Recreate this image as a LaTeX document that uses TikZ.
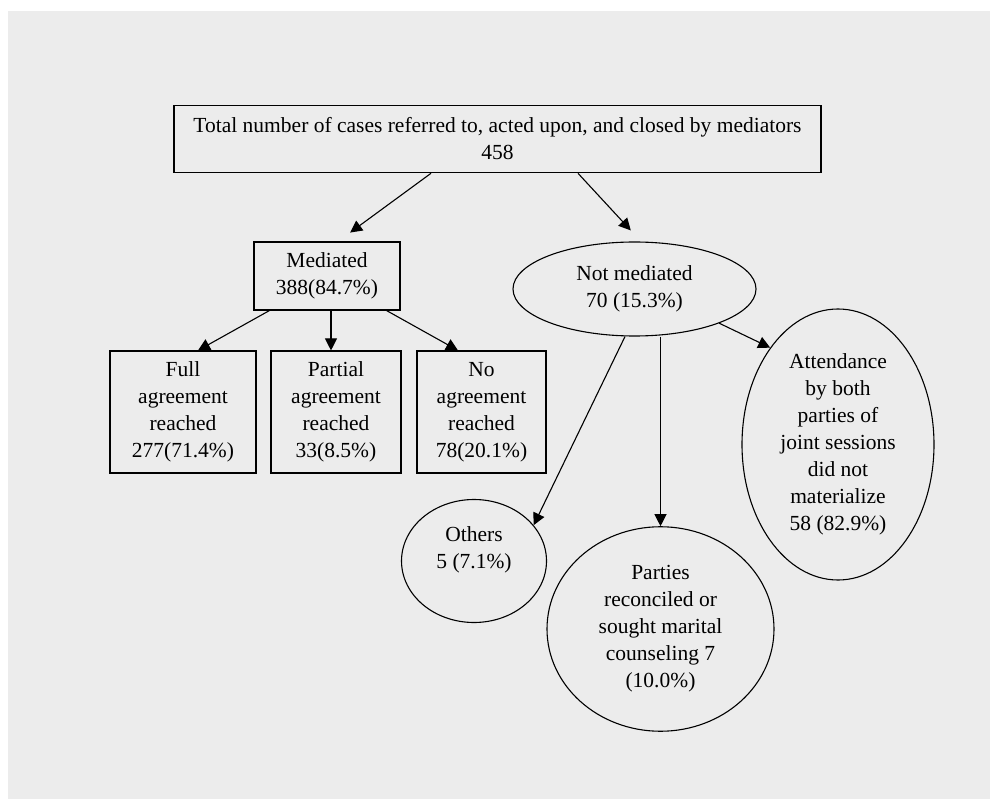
\documentclass[tikz,border=0pt]{standalone}
\usepackage{fontspec}
\setmainfont{Liberation Serif}
\usepackage{xcolor}
\usepackage{tikz}
\usetikzlibrary{positioning,arrows.meta,shapes.geometric}
\definecolor{paper}{HTML}{ECECEC}

\begin{document}
\begin{tikzpicture}[x=1pt,y=-1pt,
  box/.style={draw,line width=1.1pt,inner sep=0pt,align=center,font=\fontsize{21.5}{27}\selectfont},
  oval/.style={draw,ellipse,line width=1.1pt,inner sep=0pt,align=center,font=\fontsize{21.5}{27}\selectfont},
  arr/.style={line width=1.1pt,-{Triangle[length=12pt,width=12pt]}}
]
\useasboundingbox (0,0) rectangle (990,799);
\fill[white] (0,0) rectangle (990,799);
\fill[paper] (8,11) rectangle (990,799);
\node[box,minimum width=647pt,minimum height=67.5pt] (total) at (497.5,139)
  {Total number of cases referred to, acted upon, and closed by mediators\\458};
\node[box,minimum width=146pt,minimum height=68pt] (med) at (327,276) {Mediated\\388(84.7\%)};
\node[oval,minimum width=243pt,minimum height=94pt] (notmed) at (634.5,289) {Not mediated\\70 (15.3\%)};
\node[box,minimum width=146pt,minimum height=122pt] (full) at (183,412) {Full\\agreement\\reached\\277(71.4\%)};
\node[box,minimum width=130pt,minimum height=122pt] (part) at (336,412) {Partial\\agreement\\reached\\33(8.5\%)};
\node[box,minimum width=129pt,minimum height=122pt] (noagr) at (481.5,412) {No\\agreement\\reached\\78(20.1\%)};
\node[oval,minimum width=192pt,minimum height=271pt] (attend) at (838,444.5)
  {Attendance\\by both\\parties of\\joint sessions\\did not\\materialize\\58 (82.9\%)};
\node[oval,minimum width=145pt,minimum height=123pt,text depth=27pt] (others) at (474,561) {Others\\5 (7.1\%)};
\node[oval,minimum width=227pt,minimum height=204.5pt] (parties) at (660.5,629)
  {Parties\\reconciled or\\sought marital\\counseling 7\\(10.0\%)};
% first split
\draw[arr,shorten >=15pt] ([xshift=-66.5pt]total.south) -- ([xshift=11pt]med.north);
\draw[arr,shorten >=15pt] ([xshift=80.5pt]total.south) -- ([xshift=6.5pt]notmed.north);
% mediated
\draw[arr] ([xshift=16pt]med.south west) -- ([xshift=15pt]full.north);
\draw[arr] ([xshift=4pt]med.south) -- ([xshift=-5pt]part.north);
\draw[arr] ([xshift=-14pt]med.south east) -- ([xshift=-23.5pt]noagr.north);
% not mediated
\draw[arr] ([xshift=-9.5pt]notmed.south) -- (others.31);
\draw[arr] ([xshift=26pt]notmed.south) -- (parties.north);
\draw[arr] (notmed.-22) -- (attend.125);
\end{tikzpicture}
\end{document}
